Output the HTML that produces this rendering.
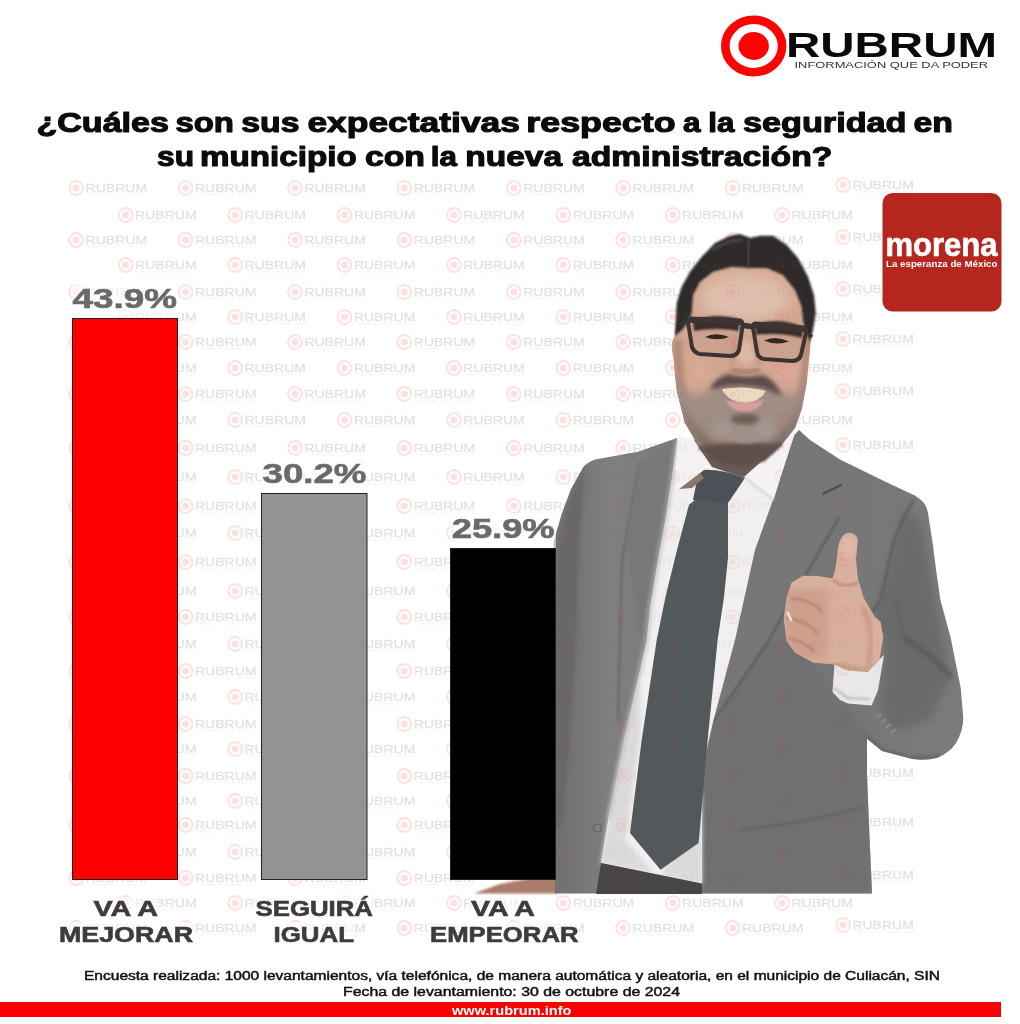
<!DOCTYPE html>
<html lang="es"><head><meta charset="utf-8"><title>RUBRUM - Encuesta Culiacán</title>
<style>
html,body{margin:0;padding:0;background:#fff;}
body{width:1020px;height:1024px;overflow:hidden;font-family:"Liberation Sans",sans-serif;}
svg{display:block;position:absolute;left:0;top:0;}
text{font-family:"Liberation Sans",sans-serif;}
.b{font-weight:bold;}
</style></head><body>
<svg width="1020" height="1024" viewBox="0 0 1020 1024">
<defs>
<g id="wm">
<circle cx="0" cy="0" r="6.9" fill="none" stroke="#f00" stroke-opacity="0.125" stroke-width="2"/>
<circle cx="0" cy="0" r="3.4" fill="#f00" fill-opacity="0.125"/>
<text x="9.4" y="4.2" font-size="11.5" fill="#000" fill-opacity="0.095" stroke="#000" stroke-opacity="0.095" stroke-width="0.35" textLength="61.5" lengthAdjust="spacingAndGlyphs">RUBRUM</text>
<text x="13" y="8" font-size="3.6" fill="#000" fill-opacity="0.06" textLength="56" lengthAdjust="spacingAndGlyphs">INFORMACIÓN QUE DA PODER</text>
</g>
<g id="wm2">
<circle cx="0" cy="0" r="6.6" fill="none" stroke="#d33" stroke-opacity="0.075" stroke-width="2"/>
<circle cx="0" cy="0" r="3.4" fill="#d33" fill-opacity="0.075"/>
<text x="9.4" y="4.2" font-size="11.5" fill="#7a7a7a" fill-opacity="0.08" textLength="61.5" lengthAdjust="spacingAndGlyphs">RUBRUM</text>
</g>
</defs>
<rect width="1020" height="1024" fill="#fff"/>

<!-- logo -->
<g id="logo">
<ellipse cx="753.7" cy="46" rx="28.4" ry="26.2" fill="none" stroke="#fd0303" stroke-width="8.6"/>
<ellipse cx="753.7" cy="46" rx="15.2" ry="13.9" fill="#fd0303"/>
<text class="b" x="786" y="57" font-size="35.6" fill="#0a0a0a" textLength="211" lengthAdjust="spacingAndGlyphs">RUBRUM</text>
<text x="794.5" y="68.2" font-size="9.3" fill="#333" textLength="193.5" lengthAdjust="spacingAndGlyphs">INFORMACIÓN QUE DA PODER</text>
</g>

<!-- title -->
<g id="title" class="b" font-size="27" fill="#0b0b0b" stroke="#0b0b0b" stroke-width="1.1" stroke-linejoin="round">
<text class="b" x="36.4" y="132" textLength="132.6" lengthAdjust="spacingAndGlyphs">¿Cuáles</text>
<text class="b" x="175.4" y="132" textLength="58.6" lengthAdjust="spacingAndGlyphs">son</text>
<text class="b" x="241.3" y="132" textLength="58.3" lengthAdjust="spacingAndGlyphs">sus</text>
<text class="b" x="307.4" y="132" textLength="212.6" lengthAdjust="spacingAndGlyphs">expectativas</text>
<text class="b" x="526.3" y="132" textLength="149.3" lengthAdjust="spacingAndGlyphs">respecto</text>
<text class="b" x="683.1" y="132" textLength="17.5" lengthAdjust="spacingAndGlyphs">a</text>
<text class="b" x="708.3" y="132" textLength="26.1" lengthAdjust="spacingAndGlyphs">la</text>
<text class="b" x="743.0" y="132" textLength="163.5" lengthAdjust="spacingAndGlyphs">seguridad</text>
<text class="b" x="913.5" y="132" textLength="39.4" lengthAdjust="spacingAndGlyphs">en</text>
<text class="b" x="157.0" y="165.5" textLength="37.0" lengthAdjust="spacingAndGlyphs">su</text>
<text class="b" x="199.9" y="165.5" textLength="156.8" lengthAdjust="spacingAndGlyphs">municipio</text>
<text class="b" x="364.9" y="165.5" textLength="60.1" lengthAdjust="spacingAndGlyphs">con</text>
<text class="b" x="430.8" y="165.5" textLength="26.1" lengthAdjust="spacingAndGlyphs">la</text>
<text class="b" x="465.2" y="165.5" textLength="96.9" lengthAdjust="spacingAndGlyphs">nueva</text>
<text class="b" x="572.0" y="165.5" textLength="260.4" lengthAdjust="spacingAndGlyphs">administración?</text>
</g>

<!-- watermark -->
<g id="watermarks">
<use href="#wm" x="76.2" y="188"/>
<use href="#wm" x="185.6" y="188"/>
<use href="#wm" x="295.0" y="188"/>
<use href="#wm" x="404.4" y="188"/>
<use href="#wm" x="513.8" y="188"/>
<use href="#wm" x="623.2" y="188"/>
<use href="#wm" x="732.6" y="188"/>
<use href="#wm" x="125.7" y="215"/>
<use href="#wm" x="235.1" y="215"/>
<use href="#wm" x="344.5" y="215"/>
<use href="#wm" x="453.9" y="215"/>
<use href="#wm" x="563.3" y="215"/>
<use href="#wm" x="672.7" y="215"/>
<use href="#wm" x="782.1" y="215"/>
<use href="#wm" x="76.2" y="240"/>
<use href="#wm" x="185.6" y="240"/>
<use href="#wm" x="295.0" y="240"/>
<use href="#wm" x="404.4" y="240"/>
<use href="#wm" x="513.8" y="240"/>
<use href="#wm" x="623.2" y="240"/>
<use href="#wm" x="732.6" y="240"/>
<use href="#wm" x="125.7" y="265"/>
<use href="#wm" x="235.1" y="265"/>
<use href="#wm" x="344.5" y="265"/>
<use href="#wm" x="453.9" y="265"/>
<use href="#wm" x="563.3" y="265"/>
<use href="#wm" x="672.7" y="265"/>
<use href="#wm" x="782.1" y="265"/>
<use href="#wm" x="76.2" y="292"/>
<use href="#wm" x="185.6" y="292"/>
<use href="#wm" x="295.0" y="292"/>
<use href="#wm" x="404.4" y="292"/>
<use href="#wm" x="513.8" y="292"/>
<use href="#wm" x="623.2" y="292"/>
<use href="#wm" x="732.6" y="292"/>
<use href="#wm" x="125.7" y="317"/>
<use href="#wm" x="235.1" y="317"/>
<use href="#wm" x="344.5" y="317"/>
<use href="#wm" x="453.9" y="317"/>
<use href="#wm" x="563.3" y="317"/>
<use href="#wm" x="672.7" y="317"/>
<use href="#wm" x="782.1" y="317"/>
<use href="#wm" x="76.2" y="342"/>
<use href="#wm" x="185.6" y="342"/>
<use href="#wm" x="295.0" y="342"/>
<use href="#wm" x="404.4" y="342"/>
<use href="#wm" x="513.8" y="342"/>
<use href="#wm" x="623.2" y="342"/>
<use href="#wm" x="732.6" y="342"/>
<use href="#wm" x="125.7" y="368"/>
<use href="#wm" x="235.1" y="368"/>
<use href="#wm" x="344.5" y="368"/>
<use href="#wm" x="453.9" y="368"/>
<use href="#wm" x="563.3" y="368"/>
<use href="#wm" x="672.7" y="368"/>
<use href="#wm" x="782.1" y="368"/>
<use href="#wm" x="76.2" y="394"/>
<use href="#wm" x="185.6" y="394"/>
<use href="#wm" x="295.0" y="394"/>
<use href="#wm" x="404.4" y="394"/>
<use href="#wm" x="513.8" y="394"/>
<use href="#wm" x="623.2" y="394"/>
<use href="#wm" x="732.6" y="394"/>
<use href="#wm" x="125.7" y="420"/>
<use href="#wm" x="235.1" y="420"/>
<use href="#wm" x="344.5" y="420"/>
<use href="#wm" x="453.9" y="420"/>
<use href="#wm" x="563.3" y="420"/>
<use href="#wm" x="672.7" y="420"/>
<use href="#wm" x="782.1" y="420"/>
<use href="#wm" x="76.2" y="448"/>
<use href="#wm" x="185.6" y="448"/>
<use href="#wm" x="295.0" y="448"/>
<use href="#wm" x="404.4" y="448"/>
<use href="#wm" x="513.8" y="448"/>
<use href="#wm" x="623.2" y="448"/>
<use href="#wm" x="732.6" y="448"/>
<use href="#wm" x="125.7" y="477"/>
<use href="#wm" x="235.1" y="477"/>
<use href="#wm" x="344.5" y="477"/>
<use href="#wm" x="453.9" y="477"/>
<use href="#wm" x="563.3" y="477"/>
<use href="#wm" x="672.7" y="477"/>
<use href="#wm" x="782.1" y="477"/>
<use href="#wm" x="76.2" y="506"/>
<use href="#wm" x="185.6" y="506"/>
<use href="#wm" x="295.0" y="506"/>
<use href="#wm" x="404.4" y="506"/>
<use href="#wm" x="513.8" y="506"/>
<use href="#wm" x="623.2" y="506"/>
<use href="#wm" x="732.6" y="506"/>
<use href="#wm" x="125.7" y="533"/>
<use href="#wm" x="235.1" y="533"/>
<use href="#wm" x="344.5" y="533"/>
<use href="#wm" x="453.9" y="533"/>
<use href="#wm" x="563.3" y="533"/>
<use href="#wm" x="672.7" y="533"/>
<use href="#wm" x="782.1" y="533"/>
<use href="#wm" x="76.2" y="562"/>
<use href="#wm" x="185.6" y="562"/>
<use href="#wm" x="295.0" y="562"/>
<use href="#wm" x="404.4" y="562"/>
<use href="#wm" x="513.8" y="562"/>
<use href="#wm" x="623.2" y="562"/>
<use href="#wm" x="732.6" y="562"/>
<use href="#wm" x="125.7" y="591"/>
<use href="#wm" x="235.1" y="591"/>
<use href="#wm" x="344.5" y="591"/>
<use href="#wm" x="453.9" y="591"/>
<use href="#wm" x="563.3" y="591"/>
<use href="#wm" x="672.7" y="591"/>
<use href="#wm" x="782.1" y="591"/>
<use href="#wm" x="76.2" y="617"/>
<use href="#wm" x="185.6" y="617"/>
<use href="#wm" x="295.0" y="617"/>
<use href="#wm" x="404.4" y="617"/>
<use href="#wm" x="513.8" y="617"/>
<use href="#wm" x="623.2" y="617"/>
<use href="#wm" x="732.6" y="617"/>
<use href="#wm" x="125.7" y="644"/>
<use href="#wm" x="235.1" y="644"/>
<use href="#wm" x="344.5" y="644"/>
<use href="#wm" x="453.9" y="644"/>
<use href="#wm" x="563.3" y="644"/>
<use href="#wm" x="672.7" y="644"/>
<use href="#wm" x="782.1" y="644"/>
<use href="#wm" x="76.2" y="671"/>
<use href="#wm" x="185.6" y="671"/>
<use href="#wm" x="295.0" y="671"/>
<use href="#wm" x="404.4" y="671"/>
<use href="#wm" x="513.8" y="671"/>
<use href="#wm" x="623.2" y="671"/>
<use href="#wm" x="732.6" y="671"/>
<use href="#wm" x="125.7" y="697"/>
<use href="#wm" x="235.1" y="697"/>
<use href="#wm" x="344.5" y="697"/>
<use href="#wm" x="453.9" y="697"/>
<use href="#wm" x="563.3" y="697"/>
<use href="#wm" x="672.7" y="697"/>
<use href="#wm" x="782.1" y="697"/>
<use href="#wm" x="76.2" y="724"/>
<use href="#wm" x="185.6" y="724"/>
<use href="#wm" x="295.0" y="724"/>
<use href="#wm" x="404.4" y="724"/>
<use href="#wm" x="513.8" y="724"/>
<use href="#wm" x="623.2" y="724"/>
<use href="#wm" x="732.6" y="724"/>
<use href="#wm" x="125.7" y="749"/>
<use href="#wm" x="235.1" y="749"/>
<use href="#wm" x="344.5" y="749"/>
<use href="#wm" x="453.9" y="749"/>
<use href="#wm" x="563.3" y="749"/>
<use href="#wm" x="672.7" y="749"/>
<use href="#wm" x="782.1" y="749"/>
<use href="#wm" x="76.2" y="776"/>
<use href="#wm" x="185.6" y="776"/>
<use href="#wm" x="295.0" y="776"/>
<use href="#wm" x="404.4" y="776"/>
<use href="#wm" x="513.8" y="776"/>
<use href="#wm" x="623.2" y="776"/>
<use href="#wm" x="732.6" y="776"/>
<use href="#wm" x="125.7" y="801"/>
<use href="#wm" x="235.1" y="801"/>
<use href="#wm" x="344.5" y="801"/>
<use href="#wm" x="453.9" y="801"/>
<use href="#wm" x="563.3" y="801"/>
<use href="#wm" x="672.7" y="801"/>
<use href="#wm" x="782.1" y="801"/>
<use href="#wm" x="76.2" y="825"/>
<use href="#wm" x="185.6" y="825"/>
<use href="#wm" x="295.0" y="825"/>
<use href="#wm" x="404.4" y="825"/>
<use href="#wm" x="513.8" y="825"/>
<use href="#wm" x="623.2" y="825"/>
<use href="#wm" x="732.6" y="825"/>
<use href="#wm" x="125.7" y="852"/>
<use href="#wm" x="235.1" y="852"/>
<use href="#wm" x="344.5" y="852"/>
<use href="#wm" x="453.9" y="852"/>
<use href="#wm" x="563.3" y="852"/>
<use href="#wm" x="672.7" y="852"/>
<use href="#wm" x="782.1" y="852"/>
<use href="#wm" x="76.2" y="878"/>
<use href="#wm" x="185.6" y="878"/>
<use href="#wm" x="295.0" y="878"/>
<use href="#wm" x="404.4" y="878"/>
<use href="#wm" x="513.8" y="878"/>
<use href="#wm" x="623.2" y="878"/>
<use href="#wm" x="732.6" y="878"/>
<use href="#wm" x="125.7" y="903"/>
<use href="#wm" x="235.1" y="903"/>
<use href="#wm" x="344.5" y="903"/>
<use href="#wm" x="453.9" y="903"/>
<use href="#wm" x="563.3" y="903"/>
<use href="#wm" x="672.7" y="903"/>
<use href="#wm" x="782.1" y="903"/>
<use href="#wm" x="76.2" y="928"/>
<use href="#wm" x="185.6" y="928"/>
<use href="#wm" x="295.0" y="928"/>
<use href="#wm" x="404.4" y="928"/>
<use href="#wm" x="513.8" y="928"/>
<use href="#wm" x="623.2" y="928"/>
<use href="#wm" x="732.6" y="928"/>
<use href="#wm" x="843" y="185"/>
<use href="#wm" x="843" y="237"/>
<use href="#wm" x="843" y="289"/>
<use href="#wm" x="843" y="339"/>
<use href="#wm" x="843" y="391"/>
<use href="#wm" x="843" y="445"/>
<use href="#wm" x="843" y="503"/>
<use href="#wm" x="843" y="559"/>
<use href="#wm" x="843" y="614"/>
<use href="#wm" x="843" y="668"/>
<use href="#wm" x="843" y="721"/>
<use href="#wm" x="843" y="773"/>
<use href="#wm" x="843" y="822"/>
<use href="#wm" x="843" y="875"/>
<use href="#wm" x="843" y="925"/>
</g>
<defs>
<filter id="bl05" x="-20%" y="-20%" width="140%" height="140%"><feGaussianBlur stdDeviation="0.6"/></filter>
<filter id="bl1" x="-20%" y="-20%" width="140%" height="140%"><feGaussianBlur stdDeviation="1"/></filter>
<filter id="bl2" x="-20%" y="-20%" width="140%" height="140%"><feGaussianBlur stdDeviation="2.2"/></filter>
<filter id="bl4" x="-30%" y="-30%" width="160%" height="160%"><feGaussianBlur stdDeviation="4"/></filter>
<filter id="bl8" x="-30%" y="-30%" width="160%" height="160%"><feGaussianBlur stdDeviation="8"/></filter>
<linearGradient id="suitG" x1="540" y1="0" x2="965" y2="0" gradientUnits="userSpaceOnUse">
<stop offset="0" stop-color="#6f6f6f"/><stop offset="0.08" stop-color="#747474"/><stop offset="0.16" stop-color="#7f7f7f"/><stop offset="0.3" stop-color="#7c7c7c"/><stop offset="0.45" stop-color="#737373"/><stop offset="0.75" stop-color="#777"/><stop offset="1" stop-color="#7c7c7c"/>
</linearGradient>
<clipPath id="suitClip"><path d="M677,438 L638,451.8 L595,459.6 Q586,463 583,467.5 L571,489 L561.5,514.5 L553.7,542 L554,560 L555,700 L555,893.5 L872,893.5 L869,825 L867,775 L867,738.7 L882,751 L912.4,759 Q926,761 937.8,757.7 Q950,752 955.6,743.7 Q963,732 963.3,718.3 L960.7,687.8 L950.5,637 L940.4,600 L936.5,573 L932.5,542 L927.8,512 Q926,504 921,500 L915.3,495.7 L887,482.4 L840,459.6 L810,440 L799,430 L780,450 L700,455 Z"/></clipPath>
<clipPath id="faceClip"><path d="M675,330 L673.5,355 L675,375 L677,392 L685,423 L698,445 L718,462 L742,467 L764,460 L783,443 L795,428 L802,408 L806.7,383 L810,350 L811,335 L808,300 L790,265 L745,255 L700,265 L680,300 Z"/></clipPath>
<clipPath id="handClip"><path d="M832.5,578.6 L835.4,568.8 L838.4,545.4 Q842,533 848,532.7 Q856,532.5 857.9,539.5 L856,559 L857.9,578.6 L863.75,598 L875.5,617.7 L880.4,621.6 L883.3,637 L879.4,660.6 L867.7,672 L848,670.4 L834.5,664.5 L813,662.6 L795.4,652.8 L786.6,641 L783.7,617.7 L786.6,598 L791.5,582.5 L803,575.7 L818,576 Z"/></clipPath>
<clipPath id="personClip"><path d="M677,438 L638,451.8 L595,459.6 Q586,463 583,467.5 L571,489 L561.5,514.5 L553.7,542 L554,560 L555,700 L555,893.5 L872,893.5 L869,825 L867,775 L867,738.7 L882,751 L912.4,759 Q926,761 937.8,757.7 Q950,752 955.6,743.7 Q963,732 963.3,718.3 L960.7,687.8 L950.5,637 L940.4,600 L936.5,573 L932.5,542 L927.8,512 Q926,504 921,500 L915.3,495.7 L887,482.4 L840,459.6 L810,440 L799,430 L780,450 L700,455 Z"/><path d="M675,330 L673.5,355 L675,375 L677,392 L685,423 L698,445 L718,462 L742,467 L764,460 L783,443 L795,428 L802,408 L806.7,383 L810,350 L811,335 L808,300 L790,265 L745,255 L700,265 L680,300 Z"/><path d="M675,336 L675.8,320 L676.7,303 L681.7,286.7 L690,271.7 L701.7,256.7 L715,243 L730,235.8 L740,234 L750,238 L760,235.8 L773,235.8 L786.7,245 L798,258 L808,276.7 L814,295 L815.8,313 L813,330 L810,342 L805,330 L803,320 L801.7,306.7 L795,290 L783,275 L766.7,268 L750,268 L731.7,266.7 L713,271.7 L700,281.7 L693,295 L691.7,313 L688,322 L682,330 Z"/><path d="M832.4,578.6 L835,568.4 L838.8,548 Q843,534 849,533.5 Q856,533 857.8,540.5 L856.5,560.8 L861.6,586 L869,609 L871.8,611.6 L880.7,626.9 L882,647 L874,667.5 L856.5,672.6 L833.7,665 L810.8,657 L793,647 L785.4,634.5 L785.4,616.7 L788,593.8 L793,581 L810.8,574.8 Z"/><path d="M677,438 L673,469 L665.5,518 L657.6,561.6 L650,606.7 L646.6,640 L623.7,741.5 L608.5,817.7 L601,863 L702,884 L702,792 L705,757 L713,722 L735,640 L755,550 L773,500 L795,433 L760,470 L710,465 Z"/></clipPath>
</defs>
<g id="person">
<!-- hand sliver under black bar -->
<path d="M474,893.5 L500,884 L557,874 L557,893.5 Z" fill="#a97c6c" filter="url(#bl1)"/>
<!-- suit -->
<path d="M677,438 L638,451.8 L595,459.6 Q586,463 583,467.5 L571,489 L561.5,514.5 L553.7,542 L554,560 L555,700 L555,893.5 L872,893.5 L869,825 L867,775 L867,738.7 L882,751 L912.4,759 Q926,761 937.8,757.7 Q950,752 955.6,743.7 Q963,732 963.3,718.3 L960.7,687.8 L950.5,637 L940.4,600 L936.5,573 L932.5,542 L927.8,512 Q926,504 921,500 L915.3,495.7 L887,482.4 L840,459.6 L810,440 L799,430 L780,450 L700,455 Z" fill="url(#suitG)"/>
<g clip-path="url(#suitClip)">
<!-- left sleeve darker -->
<path d="M585,466 L570,500 L556,560 L548,700 L545,830 L562,830 L566,790 L576,650 L578,560 Z" fill="#686868" filter="url(#bl2)"/>
<!-- right darker body -->
<path d="M713,722 L705,757 L702,792 L701,894 L872,894 L868,775 L868,735 L840,700 L800,650 L760,640 Z" fill="#6f6f6f" filter="url(#bl4)"/>
<!-- arm shading -->
<path d="M902,510 L890,560 L874,612 L886,650 L880,705 L892,731 L930,720 L950,680 L935,600 L920,520 Z" fill="#6b6b6b" filter="url(#bl4)"/>
<path d="M914,500 Q898,525 891.8,550 L880.8,600 L872,612" stroke="#5e5e5e" stroke-width="2.5" fill="none" filter="url(#bl1)"/>
<path d="M867,738 L882,751 L912,759 L938,757" stroke="#5a5a5a" stroke-width="3" fill="none" filter="url(#bl2)"/>
<path d="M868,708 L868,760" stroke="#5a5a5a" stroke-width="3" fill="none" filter="url(#bl2)"/>
<path d="M903,638 Q930,652 952,678" stroke="#595959" stroke-width="4.5" fill="none" filter="url(#bl2)"/>
<path d="M896,600 Q900,625 905,640" stroke="#626262" stroke-width="4" fill="none" filter="url(#bl2)"/>
<path d="M876,718 l5,-4 M881,723 l5,-4 M886,728 l5,-4 M891,733 l5,-4" stroke="#8c8c8c" stroke-width="2" fill="none" filter="url(#bl05)"/>
<!-- left lapel fold -->
<path d="M640,462 L622,560 L618,720" stroke="#6c6c6c" stroke-width="2.5" fill="none" filter="url(#bl1)"/>
<path d="M677,440 L640,462 L626,540 L640,640 L665.5,518 Z" fill="#787878" filter="url(#bl1)"/>
<!-- right lapel -->
<path d="M799,430 L842,484 L822,494 L838.8,517.6 L808,571 L767.6,642 L713,722 L738,625 L755,550 L773,500 Z" fill="#777"/>
<path d="M842,484.5 L822.5,494" stroke="#4f4f4f" stroke-width="2.5" fill="none" filter="url(#bl05)"/>
<path d="M838.8,517.6 L808,571 L767.6,642 L713,722" stroke="#5c5c5c" stroke-width="2.2" fill="none" filter="url(#bl1)"/>
<!-- pocket flap -->
<path d="M740,830 L800,822 L862,808" stroke="#626262" stroke-width="2" fill="none" filter="url(#bl1)"/>
<!-- button -->
<circle cx="597.5" cy="828" r="4" fill="#808080" stroke="#5f5f5f" stroke-width="1.2"/>
</g>
<!-- shirt -->
<path d="M677,438 L673,469 L665.5,518 L657.6,561.6 L650,606.7 L646.6,640 L623.7,741.5 L608.5,817.7 L601,863 L702,884 L702,792 L705,757 L713,722 L735,640 L755,550 L773,500 L795,433 L760,445 L710,440 Z" fill="#f1efef"/>
<path d="M640,680 L623.7,741.5 L608.5,817.7 L601,863 L702,884 L702,792 L690,800 L660,880 L625,840 L640,740 Z" fill="#dcdada" filter="url(#bl2)"/>
<path d="M677,440 L673,469 L665.5,518 L657.6,561.6 L650,606.7 L646.6,640 L623.7,741.5 L608.5,817.7" stroke="#b5b5b5" stroke-width="3" fill="none" filter="url(#bl2)"/>
<!-- belt / trousers -->
<path d="M601,863 L702,883.6 L702,894 L596,894 Z" fill="#474545"/>
<!-- tie -->
<path d="M695,500 L689,504.7 L677,550 L665.5,597 L656.7,640 L641.5,741.5 L630,833 L660.5,869.7 L698.6,843 L707.5,741.5 L717.6,640 L724,597 L728,557.6 L728,499 Z" fill="#52585c"/>
<path d="M699,470 Q720,468 745,478 L728,503 L693,500 Z" fill="#4b5157"/>
<!-- neck shadow -->
<path d="M694,440 L712,467 L745,478 L766,458 L790,432 Z" fill="#6a5a55"/>
<!-- collar -->
<path d="M679,435 L675.5,468 L678,490 L699,474 L709,466 L690,442 Z" fill="#f4f2f2"/>
<path d="M795,432 L786,460 L773.5,500 L744,477 L765,458 Z" fill="#f4f2f2"/>
<path d="M679,489 L700,473 L704,478 L692,488 Z" fill="#8f766a" filter="url(#bl05)"/>
<path d="M773.5,500 L744,477" stroke="#cfc8c8" stroke-width="1.5" filter="url(#bl1)"/>
<!-- ear -->
<path d="M676,336 Q671,338 672,350 Q673,362 678,366 Z" fill="#c79a86"/>
<!-- face -->
<path d="M675,330 L673.5,355 L675,375 L677,392 L685,423 L698,445 L718,462 L742,467 L764,460 L783,443 L795,428 L802,408 L806.7,383 L810,350 L811,335 L808,300 L790,265 L745,255 L700,265 L680,300 Z" fill="#d2a691"/>
<g clip-path="url(#faceClip)">
<ellipse cx="745" cy="298" rx="46" ry="24" fill="#e0bfae" filter="url(#bl8)"/>
<path d="M672,340 L676,395 L690,430 L684,380 L682,340 Z" fill="#b58a76" filter="url(#bl2)"/>
<path d="M812,335 L806,390 L790,430 L800,380 L804,340 Z" fill="#b58a76" filter="url(#bl2)"/>
<!-- beard -->
<path d="M670,368 L690,396 L708,391 L728,380 L762,380 L783,394 L797,396 L812,368 L812,470 L670,470 Z" fill="#a08d84" filter="url(#bl4)"/>
<path d="M676,400 L690,430 L705,452 L742,468 L780,452 L797,425 L806,396 L790,425 L768,445 L742,450 L716,445 L694,425 Z" fill="#7a6962" filter="url(#bl4)"/>
<path d="M700,446 Q742,440 785,444 L775,464 L742,472 L708,464 Z" fill="#5f504b" filter="url(#bl2)"/>
<ellipse cx="724" cy="428" rx="9" ry="9" fill="#a59993" filter="url(#bl4)"/>
<ellipse cx="764" cy="430" rx="10" ry="9" fill="#a59993" filter="url(#bl4)"/>
<ellipse cx="745" cy="438" rx="14" ry="5" fill="#9f938d" filter="url(#bl2)"/>
<ellipse cx="745" cy="419" rx="14" ry="5.5" fill="#6e5e58" filter="url(#bl2)"/>
<!-- moustache -->
<path d="M709,390 Q716,377 728,374 Q745,379 762,375 Q774,378 782,396 Q772,392 764,388 Q745,384 728,386 Q718,388 709,390 Z" fill="#5d4c47" filter="url(#bl2)"/>
<!-- mouth -->
<path d="M722,389 Q745,385 766,391 Q760,402 745,403 Q728,402 722,389 Z" fill="#ecdcc2" filter="url(#bl05)"/>
<path d="M726,400 Q745,405 764,400 Q759,411 745,412 Q731,411 726,400 Z" fill="#d99f9c" filter="url(#bl1)"/>
<!-- nose -->
<ellipse cx="746" cy="352" rx="9" ry="12" fill="#dfb8a5" filter="url(#bl2)"/>
<path d="M731,369 Q745,376 760,369" stroke="#9a6f5a" stroke-width="3.5" fill="none" filter="url(#bl2)"/>
<ellipse cx="787" cy="371" rx="11" ry="9" fill="#dfa99a" filter="url(#bl4)"/>
<ellipse cx="700" cy="370" rx="11" ry="9" fill="#dcab98" filter="url(#bl4)"/>
</g>
<path d="M699,447 L718,462 L742,467 L764,460 L782,444" stroke="#62534e" stroke-width="3" fill="none" filter="url(#bl1)"/>
<!-- hair -->
<path d="M675,336 L675.8,320 L676.7,303 L681.7,286.7 L690,271.7 L701.7,256.7 L715,243 L730,235.8 L740,234 L750,238 L760,235.8 L773,235.8 L786.7,245 L798,258 L808,276.7 L814,295 L815.8,313 L813,330 L810,342 L805,330 L803,320 L801.7,306.7 L795,290 L783,275 L766.7,268 L750,268 L731.7,266.7 L713,271.7 L700,281.7 L693,295 L691.7,313 L688,322 L682,330 Z" fill="#2e2a2a" filter="url(#bl1)"/>
<path d="M749,240 Q747,255 749,268" stroke="#514b4b" stroke-width="2" fill="none" filter="url(#bl1)"/>
<path d="M712,250 Q728,240 742,240" stroke="#4a4545" stroke-width="3" fill="none" filter="url(#bl1)"/>
<!-- brow/eye shadows -->
<g fill="#3a2e2a" filter="url(#bl1)">
<path d="M693,321 Q715,312 739,319 L739,331 Q716,327 694,331 Z"/>
<path d="M755,324 Q780,317 803,327 L802,338 Q780,332 756,335 Z"/>
</g>
<g fill="#33251f" filter="url(#bl05)">
<path d="M705,337 Q716,331.5 729,337 Q717,341.5 705,337 Z"/>
<path d="M764,340.5 Q776,335 789,341.5 Q776,346 764,340.5 Z"/>
</g>
<path d="M737,340 Q734,356 731,366 M755,342 Q757,358 761,366" stroke="#b98f7b" stroke-width="2.5" fill="none" filter="url(#bl2)"/>
<!-- glasses -->
<g fill="#4a3d38" fill-opacity="0.04" stroke="#3b3431" stroke-width="4" stroke-linejoin="round">
<path d="M690,318.5 L740,320.5 Q743,321.5 742.5,326.5 L739,350 Q737,356 730,356 L700,354 Q694,353 692,347 L688,322.5 Q688,318.5 690,318.5 Z"/>
<path d="M755,323.5 L803,327.5 Q807,328.5 806,332.5 L801,355 Q799,361 792,361 L764,359 Q758,358 757,352 L753,327.5 Q753,323.5 755,323.5 Z"/>
<path d="M741,325 L754,327" fill="none" stroke-width="5.5"/>
<path d="M689,321 L679,324" fill="none" stroke-width="3.2"/>
<path d="M805,330 L812,337" fill="none" stroke-width="3.2"/>
<path d="M690,320 L741,322.5" fill="none" stroke-width="5.5"/>
<path d="M755,325.5 L804,329.5" fill="none" stroke-width="5.5"/>
</g>
<!-- cuff -->
<path d="M834.5,664 L832.5,692 L840,700 L848,703.6 L871.6,705.5 L878,690 L884,655 L870,668 Z" fill="#e9e7e7"/>
<path d="M834,688 L848,698 L870,699" stroke="#c4c2c2" stroke-width="2.5" fill="none" filter="url(#bl1)"/>
<!-- hand -->
<path d="M832.5,578.6 L835.4,568.8 L838.4,545.4 Q842,533 848,532.7 Q856,532.5 857.9,539.5 L856,559 L857.9,578.6 L863.75,598 L875.5,617.7 L880.4,621.6 L883.3,637 L879.4,660.6 L867.7,672 L848,670.4 L834.5,664.5 L813,662.6 L795.4,652.8 L786.6,641 L783.7,617.7 L786.6,598 L791.5,582.5 L803,575.7 L818,576 Z" fill="#d9b09d"/>
<g clip-path="url(#handClip)">
<path d="M786,590 L830,590 L826,660 L800,660 L784,640 Z" fill="#cf9f8c" filter="url(#bl4)"/>
<path d="M790,598 Q812,600 822,612 M786,618 Q806,620 818,634 M788,638 Q804,640 814,652" stroke="#b48673" stroke-width="2.6" fill="none" filter="url(#bl1)"/>
<path d="M833,580 Q846,590 858,582" stroke="#bb8b78" stroke-width="2.5" fill="none" filter="url(#bl1)"/>
<path d="M862,606 Q876,630 868,668" stroke="#c79a86" stroke-width="5" fill="none" filter="url(#bl2)"/>
<ellipse cx="848" cy="548" rx="7" ry="12" fill="#e2b7aa" filter="url(#bl2)"/>
<path d="M830,664 L870,672" stroke="#b98b79" stroke-width="3" fill="none" filter="url(#bl2)"/>
</g>
<path d="M787.5,612 L791.5,621" stroke="#efe6da" stroke-width="2.6" fill="none"/>
</g>

<g clip-path="url(#personClip)">
<use href="#wm2" x="513.8" y="240"/>
<use href="#wm2" x="623.2" y="240"/>
<use href="#wm2" x="732.6" y="240"/>
<use href="#wm2" x="563.3" y="265"/>
<use href="#wm2" x="672.7" y="265"/>
<use href="#wm2" x="782.1" y="265"/>
<use href="#wm2" x="513.8" y="292"/>
<use href="#wm2" x="623.2" y="292"/>
<use href="#wm2" x="732.6" y="292"/>
<use href="#wm2" x="563.3" y="317"/>
<use href="#wm2" x="672.7" y="317"/>
<use href="#wm2" x="782.1" y="317"/>
<use href="#wm2" x="513.8" y="342"/>
<use href="#wm2" x="623.2" y="342"/>
<use href="#wm2" x="732.6" y="342"/>
<use href="#wm2" x="563.3" y="368"/>
<use href="#wm2" x="672.7" y="368"/>
<use href="#wm2" x="782.1" y="368"/>
<use href="#wm2" x="513.8" y="394"/>
<use href="#wm2" x="623.2" y="394"/>
<use href="#wm2" x="732.6" y="394"/>
<use href="#wm2" x="563.3" y="420"/>
<use href="#wm2" x="672.7" y="420"/>
<use href="#wm2" x="782.1" y="420"/>
<use href="#wm2" x="513.8" y="448"/>
<use href="#wm2" x="623.2" y="448"/>
<use href="#wm2" x="732.6" y="448"/>
<use href="#wm2" x="563.3" y="477"/>
<use href="#wm2" x="672.7" y="477"/>
<use href="#wm2" x="782.1" y="477"/>
<use href="#wm2" x="513.8" y="506"/>
<use href="#wm2" x="623.2" y="506"/>
<use href="#wm2" x="732.6" y="506"/>
<use href="#wm2" x="563.3" y="533"/>
<use href="#wm2" x="672.7" y="533"/>
<use href="#wm2" x="782.1" y="533"/>
<use href="#wm2" x="513.8" y="562"/>
<use href="#wm2" x="623.2" y="562"/>
<use href="#wm2" x="732.6" y="562"/>
<use href="#wm2" x="563.3" y="591"/>
<use href="#wm2" x="672.7" y="591"/>
<use href="#wm2" x="782.1" y="591"/>
<use href="#wm2" x="513.8" y="617"/>
<use href="#wm2" x="623.2" y="617"/>
<use href="#wm2" x="732.6" y="617"/>
<use href="#wm2" x="563.3" y="644"/>
<use href="#wm2" x="672.7" y="644"/>
<use href="#wm2" x="782.1" y="644"/>
<use href="#wm2" x="513.8" y="671"/>
<use href="#wm2" x="623.2" y="671"/>
<use href="#wm2" x="732.6" y="671"/>
<use href="#wm2" x="563.3" y="697"/>
<use href="#wm2" x="672.7" y="697"/>
<use href="#wm2" x="782.1" y="697"/>
<use href="#wm2" x="513.8" y="724"/>
<use href="#wm2" x="623.2" y="724"/>
<use href="#wm2" x="732.6" y="724"/>
<use href="#wm2" x="563.3" y="749"/>
<use href="#wm2" x="672.7" y="749"/>
<use href="#wm2" x="782.1" y="749"/>
<use href="#wm2" x="513.8" y="776"/>
<use href="#wm2" x="623.2" y="776"/>
<use href="#wm2" x="732.6" y="776"/>
<use href="#wm2" x="563.3" y="801"/>
<use href="#wm2" x="672.7" y="801"/>
<use href="#wm2" x="782.1" y="801"/>
<use href="#wm2" x="513.8" y="825"/>
<use href="#wm2" x="623.2" y="825"/>
<use href="#wm2" x="732.6" y="825"/>
<use href="#wm2" x="563.3" y="852"/>
<use href="#wm2" x="672.7" y="852"/>
<use href="#wm2" x="782.1" y="852"/>
<use href="#wm2" x="513.8" y="878"/>
<use href="#wm2" x="623.2" y="878"/>
<use href="#wm2" x="732.6" y="878"/>
<use href="#wm2" x="843" y="237"/>
<use href="#wm2" x="843" y="289"/>
<use href="#wm2" x="843" y="339"/>
<use href="#wm2" x="843" y="391"/>
<use href="#wm2" x="843" y="445"/>
<use href="#wm2" x="843" y="503"/>
<use href="#wm2" x="843" y="559"/>
<use href="#wm2" x="843" y="614"/>
<use href="#wm2" x="843" y="668"/>
<use href="#wm2" x="843" y="721"/>
<use href="#wm2" x="843" y="773"/>
<use href="#wm2" x="843" y="822"/>
<use href="#wm2" x="843" y="875"/>
</g>
<!-- label backdrops -->
<g fill="#fff" opacity="0.55">
<rect x="72" y="283" width="106" height="36"/>
<rect x="261" y="458" width="106" height="36"/>
<rect x="450" y="513" width="106" height="36"/>
<rect x="92" y="897" width="67" height="23"/><rect x="58" y="922" width="135" height="24"/>
<rect x="254" y="893" width="119" height="27"/><rect x="273" y="922" width="82" height="24"/>
<rect x="470" y="897" width="66" height="23"/><rect x="429" y="922" width="150" height="24"/>
</g>

<!-- morena -->
<g id="morena">
<rect x="882.5" y="193" width="119" height="118.5" rx="10" fill="#b5261f"/>
<text class="b" x="885.5" y="255.5" font-size="33" fill="#fff" stroke="#fff" stroke-width="0.7" textLength="112" lengthAdjust="spacingAndGlyphs">morena</text>
<text class="b" x="886" y="266.7" font-size="9.5" fill="#fff" textLength="111.5" lengthAdjust="spacingAndGlyphs">La esperanza de México</text>
</g>

<!-- bars -->
<g id="bars" stroke="#222" stroke-width="1">
<rect x="72.5" y="318.5" width="105" height="561" fill="#fe0000"/>
<rect x="261.5" y="493.5" width="105.5" height="386" fill="#939393"/>
<rect x="450.5" y="548.5" width="105" height="331" fill="#000"/>
</g>
<g id="values" fill="#6a6a6a" stroke="#6a6a6a" stroke-width="0.6">
<text class="b" x="72.5" y="308" font-size="28" textLength="104.5" lengthAdjust="spacingAndGlyphs">43.9%</text>
<text class="b" x="262.5" y="483" font-size="28" textLength="104" lengthAdjust="spacingAndGlyphs">30.2%</text>
<text class="b" x="451.7" y="537.8" font-size="28" textLength="103" lengthAdjust="spacingAndGlyphs">25.9%</text>
</g>
<g id="labels" fill="#3c3c3c" stroke="#3c3c3c" stroke-width="0.6">
<text class="b" x="93.5" y="916" font-size="21.8" textLength="64.5" lengthAdjust="spacingAndGlyphs">VA A</text>
<text class="b" x="59" y="941.8" font-size="21.8" textLength="134" lengthAdjust="spacingAndGlyphs">MEJORAR</text>
<text class="b" x="255.5" y="916" font-size="21.8" textLength="117.5" lengthAdjust="spacingAndGlyphs">SEGUIRÁ</text>
<text class="b" x="273.5" y="941.8" font-size="21.8" textLength="80.5" lengthAdjust="spacingAndGlyphs">IGUAL</text>
<text class="b" x="471" y="916" font-size="21.8" textLength="64" lengthAdjust="spacingAndGlyphs">VA A</text>
<text class="b" x="430" y="941.8" font-size="21.8" textLength="148.5" lengthAdjust="spacingAndGlyphs">EMPEORAR</text>
</g>

<!-- footer -->
<g id="footer" fill="#111" stroke="#111" stroke-width="0.45">
<text x="84" y="980" font-size="12" textLength="856" lengthAdjust="spacingAndGlyphs">Encuesta realizada: 1000 levantamientos, vía telefónica, de manera automática y aleatoria, en el municipio de Culiacán, SIN</text>
<text x="343" y="996" font-size="12" textLength="337" lengthAdjust="spacingAndGlyphs">Fecha de levantamiento: 30 de octubre de 2024</text>
</g>
<rect x="0" y="1002" width="1001" height="15" fill="#fe0000"/>
<text class="b" x="452" y="1015" font-size="12.6" fill="#fff" textLength="119.5" lengthAdjust="spacingAndGlyphs">www.rubrum.info</text>
</svg>
</body></html>
